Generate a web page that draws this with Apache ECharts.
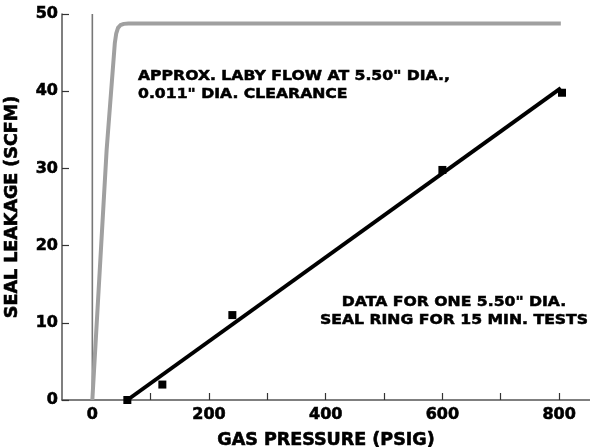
<!DOCTYPE html>
<html>
<head>
<meta charset="utf-8">
<script src="https://cdn.jsdelivr.net/npm/echarts@6/dist/echarts.min.js"></script>
<style>html,body{margin:0;padding:0;background:#fff}#c{width:590px;height:447px}</style>
</head>
<body>
<div id="c"></div>
<script>
// Data
const xLabelValues = [0, 200, 400, 600, 800];
const xTickValues = [100, 200, 300, 400, 500, 600, 700, 800];
const labyFlow = [[0, 0], [24.5, 32.4], [38.5, 46.2], [41, 47.5], [44, 48.2], [48, 48.55], [54, 48.72], [62, 48.78], [803, 48.78]];
const testPoints = [[60, 0], [120, 2], [240, 11], [600, 29.8], [805, 39.8]];
const fitLine = [[60, 0], [803, 40.4]];
const zeroLine = [[0, 0], [0, 50]];
const note1 = ['APPROX. LABY FLOW AT 5.50" DIA.,', '0.011" DIA. CLEARANCE'];
const note2 = ['DATA FOR ONE 5.50" DIA.', 'SEAL RING FOR 15 MIN. TESTS'];

const FONT = 'DejaVu Sans';
const heavy = { fontFamily: FONT, fontWeight: 'bold', color: '#000', textBorderColor: '#000', textBorderWidth: 0.6 };
const chart = echarts.init(document.getElementById('c'));
chart.setOption({
  animation: false,
  backgroundColor: '#fff',
  grid: { left: 62, right: 0, top: 14, bottom: 47, outerBoundsMode: 'none', containLabel: false },
  xAxis: {
    type: 'value', min: -52, max: 853,
    name: 'GAS PRESSURE (PSIG)', nameLocation: 'middle', nameGap: 31,
    nameTextStyle: Object.assign({ fontSize: 17.5 }, heavy),
    axisLine: { show: true, onZero: false, lineStyle: { color: '#555', width: 1.5 } },
    axisTick: { show: true, inside: true, length: 7, customValues: xTickValues, lineStyle: { color: '#333', width: 1.2 } },
    axisLabel: Object.assign({ customValues: xLabelValues, fontSize: 16, margin: 7 }, heavy),
    splitLine: { show: false }
  },
  yAxis: {
    type: 'value', min: 0, max: 50, interval: 10,
    name: 'SEAL LEAKAGE (SCFM)', nameLocation: 'middle', nameGap: 41, nameRotate: 90,
    nameTextStyle: Object.assign({ fontSize: 17.5 }, heavy),
    axisLine: { show: true, onZero: false, lineStyle: { color: '#555', width: 1.5 } },
    axisTick: { show: true, inside: true, length: 7, lineStyle: { color: '#333', width: 1.2 } },
    axisLabel: Object.assign({ fontSize: 16, margin: 4 }, heavy),
    splitLine: { show: false }
  },
  series: [
    { type: 'line', data: zeroLine, symbol: 'none', lineStyle: { color: '#777', width: 1.6 }, z: 1 },
    { type: 'line', data: labyFlow, symbol: 'none', smooth: false, lineStyle: { color: '#a0a0a0', width: 4, join: 'round' }, z: 2 },
    { type: 'line', data: fitLine, symbol: 'none', lineStyle: { color: '#000', width: 4 }, z: 3 },
    { type: 'scatter', data: testPoints, symbol: 'rect', symbolSize: 8, itemStyle: { color: '#000', opacity: 1 }, z: 4 }
  ],
  graphic: [
    { type: 'text', x: 138, y: 67, scaleX: 1.16, style: { text: note1.join('\n'), fontFamily: FONT, fontWeight: 'bold', fontSize: 13.5, lineHeight: 18, fill: '#000', stroke: '#000', lineWidth: 0.5 } },
    { type: 'text', x: 454, y: 293, scaleX: 1.16, style: { text: note2.join('\n'), fontFamily: FONT, fontWeight: 'bold', fontSize: 13.5, lineHeight: 18, fill: '#000', stroke: '#000', lineWidth: 0.5, align: 'center' } }
  ]
});
</script>
</body>
</html>
